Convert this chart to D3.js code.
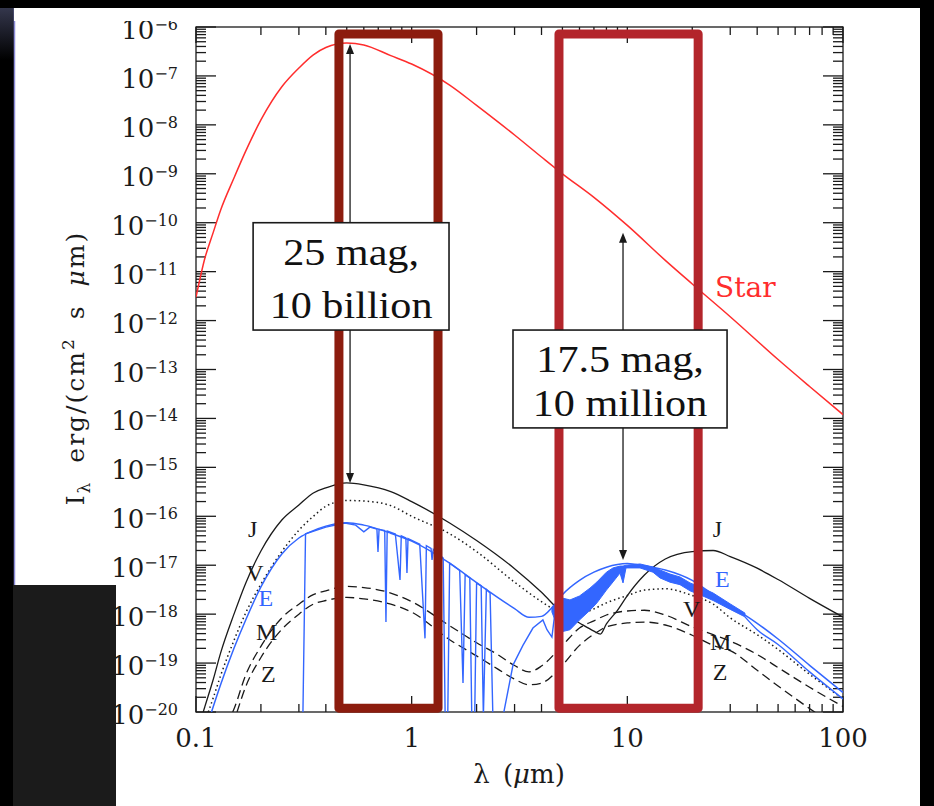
<!DOCTYPE html>
<html>
<head>
<meta charset="utf-8">
<script src="https://cdn.jsdelivr.net/npm/d3@7"></script>
<style>
html, body { margin: 0; padding: 0; background: #000; }
svg { display: block; }
</style>
</head>
<body>
<svg width="934" height="806"></svg>
<script>
// wavelength in micron, intensity in erg/(cm2 s um)
var starLam = [0.1,0.11,0.12,0.13,0.15,0.17,0.2,0.25,0.3,0.35,0.4,0.5,0.6,0.8,1,1.5,2,3,4,5,7,10,15,20,30,50,70,100];
var starI = [3.0e-12,1.9e-11,6.2e-11,1.8e-10,8.2e-10,2.9e-9,1.26e-8,6.0e-8,1.45e-7,2.7e-7,3.8e-7,4.7e-7,4.3e-7,2.6e-7,1.75e-7,6.5e-8,2.5e-8,6.2e-9,2.2e-9,1.0e-9,3.3e-10,8.8e-11,1.7e-11,5.6e-12,1.2e-12,1.6e-13,4.5e-14,1.2e-14];

var jupLam = [0.108,0.11,0.12,0.13,0.15,0.17,0.2,0.25,0.3,0.35,0.4,0.5,0.6,0.8,1,1.5,2,3,4,5,6,7,7.5,8,9,10,12,15,20,25,30,40,50,70,100];
var jupI = [1e-20,1.3e-20,4.5e-20,1.6e-19,1.0e-18,4.3e-18,1.95e-17,8.4e-17,1.7e-16,3.0e-16,3.8e-16,4.8e-16,4.4e-16,3.2e-16,2.0e-16,7.3e-17,3.2e-17,8.5e-18,2.8e-18,1.06e-18,6.6e-19,4.5e-19,3.9e-19,6.3e-19,1.2e-18,2.4e-18,6.3e-18,1.34e-17,1.9e-17,2.0e-17,1.5e-17,8.7e-18,5.1e-18,2.1e-18,8.7e-19];

var venLam = [0.114,0.12,0.13,0.15,0.17,0.2,0.25,0.3,0.35,0.4,0.5,0.6,0.8,1,1.5,2,3,4,5,5.5,6,7,8,10,12,15,20,25,30,40,50,70,100];
var venI = [1e-20,1.9e-20,5.5e-20,2.9e-19,1.06e-18,4.1e-18,1.9e-17,5.2e-17,1.0e-16,1.6e-16,2.1e-16,2.05e-16,1.65e-16,1.0e-16,4.4e-17,1.9e-17,4.5e-18,1.8e-18,1.0e-18,8.4e-19,9.6e-19,1.28e-18,1.7e-18,2.4e-18,3.1e-18,3.3e-18,2.4e-18,1.6e-18,8.4e-19,3.8e-19,1.9e-19,5.9e-20,1.85e-20];

var earthLam = [0.118,0.13,0.15,0.17,0.2,0.25,0.3,0.35,0.4,0.5,0.6,0.8,1,1.5,2,3,3.5,4,4.5,5,6,7,8,10,12,15,20,25,30,40,50,70,100];
var earthI = [1e-20,3.6e-20,2.0e-19,7.6e-19,3.6e-18,1.7e-17,3.6e-17,5.1e-17,6.3e-17,7.4e-17,6.6e-17,4.5e-17,3.1e-17,1.1e-17,4.4e-18,1.3e-18,8.6e-19,9.0e-19,1.4e-18,2.5e-18,4.9e-18,7.2e-18,9.1e-18,1.08e-17,9.7e-18,8.0e-18,4.9e-18,2.5e-18,1.5e-18,6.5e-19,3.1e-19,9.0e-20,2.5e-20];

// earth spectrum with absorption bands
var earthSpecLam = [0.313,0.322,0.40,0.49,0.55,0.60,0.64,0.69,0.698,0.706,0.75,0.76,0.77,0.84,0.883,0.895,0.94,0.951,0.962,1.09,1.153,1.17,1.23,1.243,1.26,1.40,1.43,1.47,1.50,1.67,1.73,1.77,1.86,1.90,1.96,2.0,2.10,2.15,2.22,2.31,2.38,2.65,2.95,3.28,3.65,4.06,4.24,4.47,4.62];
var earthSpecI = [8e-21,4.4e-17,6.0e-17,7.3e-17,6.6e-17,4.8e-17,6.0e-17,5.5e-17,1.86e-17,5.4e-17,5.1e-17,6.9e-19,5.0e-17,4.35e-17,5.0e-18,4.0e-17,3.6e-17,6.9e-18,3.5e-17,2.7e-17,3.2e-19,2.5e-17,2.2e-17,1.28e-17,2.1e-17,1.4e-17,8e-21,8e-21,1.1e-17,7.8e-18,3.9e-20,6.4e-18,5.5e-18,8e-21,8e-21,4.3e-18,3.8e-18,8e-21,3.2e-18,2.7e-18,8e-21,8e-21,9.1e-20,2.3e-19,5.2e-19,7.6e-19,4.8e-19,3.4e-19,1.1e-18];

var bandLam = [4.47,4.72,5.0,5.42,6.0,6.71,7.23,8.0,8.58,9.25,9.55,9.86,11.45,13.15,14.17,15.77,17.55,19.52,21.7,25.0,30.0,35.1];
var bandTop = [1.4e-18,1.77e-18,2.13e-18,1.95e-18,2.35e-18,3.4e-18,4.55e-18,7.2e-18,8.8e-18,9.6e-18,9.6e-18,1.0e-17,1.06e-17,9.2e-18,8.0e-18,6.6e-18,5.75e-18,4.35e-18,3.6e-18,2.7e-18,1.62e-18,1.05e-18];
var bandBottom = [1.1e-18,6.0e-19,4.4e-19,4.8e-19,7.6e-19,1.2e-18,1.7e-18,3.1e-18,4.55e-18,6.9e-18,4.35e-18,8.8e-18,8.8e-18,7.2e-18,5.5e-18,4.5e-18,4.0e-18,3.0e-18,2.5e-18,1.9e-18,1.25e-18,8.8e-19];

var earthTailLam = [35.1,40,50,70,100];
var earthTailI = [8.8e-19,4.8e-19,2.4e-19,6.6e-20,1.85e-20];

var marsLam = [0.148,0.15,0.17,0.2,0.25,0.3,0.35,0.4,0.5,0.6,0.8,1,1.5,2,2.5,3,3.5,4,5,6,7,8,10,12,15,20,25,30,40,50,70,100];
var marsI = [1e-20,1.15e-20,5.7e-20,2.2e-19,8.4e-19,1.6e-18,2.5e-18,3.0e-18,3.7e-18,3.5e-18,2.7e-18,1.8e-18,5.8e-19,2.6e-19,1.5e-19,8.9e-20,6.6e-20,8.7e-20,2.3e-19,5.2e-19,7.3e-19,9.6e-19,1.16e-18,1.2e-18,9.6e-19,5.5e-19,3.8e-19,2.8e-19,1.5e-19,8.1e-20,3.2e-20,1.3e-20];

var zodiLam = [0.155,0.17,0.2,0.25,0.3,0.35,0.4,0.5,0.6,0.8,1,1.5,2,2.5,3,3.5,4,5,6,7,8,10,12,15,20,25,30,40,50,60,75];
var zodiI = [1e-20,3.3e-20,1.3e-19,4.9e-19,1.0e-18,1.6e-18,1.9e-18,2.2e-18,2.05e-18,1.6e-18,1.1e-18,3.0e-19,1.4e-19,7.6e-20,4.7e-20,3.6e-20,3.9e-20,9.1e-20,2.3e-19,3.9e-19,5.5e-19,6.6e-19,6.9e-19,6.0e-19,3.7e-19,2.3e-19,1.8e-19,7.1e-20,3.4e-20,1.9e-20,9.5e-21];

var arrowLam = [0.518, 9.55];
var arrowTop = [4.5e-7, 6.2e-11];
var arrowBottom = [4.8e-16, 1.28e-17];

var boxLam0 = [0.46, 4.82];
var boxLam1 = [1.325, 21.3];
var boxTop = 7.2e-7, boxBottom = 1.2e-20;
var boxColors = ["#8c1c0e", "#b3252b"];

var noteLam0 = [0.184, 2.95];
var noteLam1 = [1.49, 29.0];
var noteTop = [1.0e-10, 6.4e-13];
var noteBottom = [6.4e-13, 6.4e-15];
var noteLines = [["25 mag,", "10 billion"], ["17.5 mag,", "10 million"]];

var planetNames = ["J","V","E","M","Z","J","E","V","M","Z"];
var planetLam = [0.174,0.171,0.195,0.190,0.200,24.9,25.5,18.1,24.2,24.9];
var planetI = [3.8e-17,4.7e-18,1.5e-18,2.96e-19,4.1e-20,3.8e-17,3.6e-18,8.75e-19,1.85e-19,4.5e-20];

var svg = d3.select("svg"),
    width = +svg.attr("width"),
    height = +svg.attr("height");

var x = d3.scaleLog().domain([0.1, 100]).range([196, 843]);
var y = d3.scaleLog().domain([1e-20, 1e-6]).range([712, 27]);

var blue = "#3366ff", red = "#ff2d2d", ink = "#1a1a1a";
var times = "'Liberation Serif', 'Times New Roman', serif";

function isMajor(v) {
    var l = Math.log10(v);
    return Math.abs(l - Math.round(l)) < 1e-6;
}

// slide background
var defs = svg.append("defs");
var grad = defs.append("linearGradient").attr("id", "corner")
    .attr("x1", 0).attr("y1", 0).attr("x2", 0).attr("y2", 1);
grad.append("stop").attr("offset", "0%").attr("stop-color", "#3c3f58");
grad.append("stop").attr("offset", "100%").attr("stop-color", "#000");
defs.append("clipPath").attr("id", "plot").append("rect")
    .attr("x", x(0.1)).attr("y", y(1e-6))
    .attr("width", x(100) - x(0.1)).attr("height", y(1e-20) - y(1e-6));

svg.append("rect").attr("width", width).attr("height", height).attr("fill", "#000");
svg.append("rect").attr("x", 0).attr("y", 0).attr("width", 14).attr("height", 60).attr("fill", "url(#corner)");
svg.append("rect").attr("x", 14).attr("y", 8).attr("width", 906).attr("height", height - 8).attr("fill", "#fff");
svg.append("line").attr("x1", 14.5).attr("x2", 14.5).attr("y1", 8).attr("y2", height)
    .attr("stroke", "#8c8cd8").attr("stroke-width", 1.5);

// frame and ticks
var frame = svg.append("g").attr("stroke", ink).attr("stroke-width", 1.3).attr("fill", "none");
frame.append("rect").attr("x", x(0.1)).attr("y", y(1e-6))
    .attr("width", x(100) - x(0.1)).attr("height", y(1e-20) - y(1e-6));

x.ticks(40).forEach(function(v) {
    var len = isMajor(v) ? 16 : 8;
    frame.append("line").attr("x1", x(v)).attr("x2", x(v)).attr("y1", y(1e-20)).attr("y2", y(1e-20) - len);
    frame.append("line").attr("x1", x(v)).attr("x2", x(v)).attr("y1", y(1e-6)).attr("y2", y(1e-6) + len);
});
y.ticks(200).forEach(function(v) {
    var len = isMajor(v) ? 20 : 10;
    frame.append("line").attr("y1", y(v)).attr("y2", y(v)).attr("x1", x(0.1)).attr("x2", x(0.1) + len);
    frame.append("line").attr("y1", y(v)).attr("y2", y(v)).attr("x1", x(100)).attr("x2", x(100) - len);
});

// tick labels
var tl = svg.append("g").attr("font-family", "DejaVu Serif").attr("fill", ink);
x.ticks(40).filter(isMajor).forEach(function(v) {
    tl.append("text").attr("x", x(v)).attr("y", 747).attr("text-anchor", "middle")
        .attr("font-size", 26).text(d3.format("~g")(v));
});
y.ticks(200).filter(isMajor).forEach(function(v) {
    var e = Math.round(Math.log10(v));
    var t = tl.append("text").attr("x", 178).attr("y", y(v) + 12)
        .attr("text-anchor", "end").attr("font-size", 26);
    t.append("tspan").text("10");
    t.append("tspan").attr("font-size", 16).attr("dy", -9).text("\u2212" + (-e));
});

// curves
var plot = svg.append("g").attr("clip-path", "url(#plot)").attr("fill", "none");
var smooth = d3.line().x(function(d) { return x(d[0]); }).y(function(d) { return y(d[1]); })
    .curve(d3.curveMonotoneX);
var straight = d3.line().x(function(d) { return x(d[0]); }).y(function(d) { return y(d[1]); });
var band = d3.area().x(function(d) { return x(d[0]); })
    .y0(function(d) { return y(d[2]); }).y1(function(d) { return y(d[1]); });

plot.append("path").attr("d", smooth(d3.zip(starLam, starI)))
    .attr("stroke", red).attr("stroke-width", 1.5);
plot.append("path").attr("d", smooth(d3.zip(zodiLam, zodiI)))
    .attr("stroke", ink).attr("stroke-width", 1.3).attr("stroke-dasharray", "9,5");
plot.append("path").attr("d", smooth(d3.zip(marsLam, marsI)))
    .attr("stroke", ink).attr("stroke-width", 1.3).attr("stroke-dasharray", "9,5");
plot.append("path").attr("d", smooth(d3.zip(venLam, venI)))
    .attr("stroke", ink).attr("stroke-width", 1.5).attr("stroke-dasharray", "1.5,3");
plot.append("path").attr("d", smooth(d3.zip(jupLam, jupI)))
    .attr("stroke", ink).attr("stroke-width", 1.3);
plot.append("path").attr("d", smooth(d3.zip(earthLam, earthI)))
    .attr("stroke", blue).attr("stroke-width", 1.5);
plot.append("path").attr("d", straight(d3.zip(earthSpecLam, earthSpecI)))
    .attr("stroke", blue).attr("stroke-width", 1.4);
plot.append("path").attr("d", band(d3.zip(bandLam, bandTop, bandBottom)))
    .attr("fill", blue).attr("stroke", blue).attr("stroke-width", 1);
plot.append("path").attr("d", smooth(d3.zip(earthTailLam, earthTailI)))
    .attr("stroke", blue).attr("stroke-width", 1.4);

// arrows between star and planet
arrowLam.forEach(function(l, i) {
    var ax = x(l), y0 = y(arrowTop[i]), y1 = y(arrowBottom[i]);
    svg.append("line").attr("x1", ax).attr("x2", ax).attr("y1", y0 + 6).attr("y2", y1 - 6)
        .attr("stroke", ink).attr("stroke-width", 1.3);
    svg.append("path").attr("fill", ink)
        .attr("d", "M" + ax + "," + y0 + "l-4,10h8z");
    svg.append("path").attr("fill", ink)
        .attr("d", "M" + ax + "," + y1 + "l-4,-10h8z");
});

// highlighted bands
boxLam0.forEach(function(l, i) {
    svg.append("rect").attr("x", x(l)).attr("y", y(boxTop))
        .attr("width", x(boxLam1[i]) - x(l)).attr("height", y(boxBottom) - y(boxTop))
        .attr("fill", "none").attr("stroke", boxColors[i]).attr("stroke-width", 9)
        .attr("stroke-linejoin", "round");
});

// annotation boxes
noteLam0.forEach(function(l, i) {
    var x0 = x(l), x1 = x(noteLam1[i]), top = y(noteTop[i]), bot = y(noteBottom[i]);
    svg.append("rect").attr("x", x0).attr("y", top).attr("width", x1 - x0).attr("height", bot - top)
        .attr("fill", "#fff").attr("stroke", ink).attr("stroke-width", 1.6);
    var cx = (x0 + x1) / 2;
    [top + 42, bot - 12].forEach(function(b, k) {
        svg.append("text").attr("transform", "translate(" + cx + "," + b + ") scale(1.14,1)")
            .attr("text-anchor", "middle").attr("font-family", times)
            .attr("font-size", 37).attr("fill", "#111").text(noteLines[i][k]);
    });
});

// curve labels
planetNames.forEach(function(n, i) {
    svg.append("text").attr("x", x(planetLam[i])).attr("y", y(planetI[i]))
        .attr("font-family", times).attr("font-size", 24)
        .attr("fill", n == "E" ? blue : ink).text(n);
});
svg.append("text").attr("x", x(25.5)).attr("y", y(3.0e-12))
    .attr("font-family", "DejaVu Serif").attr("font-size", 28).attr("fill", red).text("Star");

// axis titles
var xt = svg.append("text").attr("x", 519).attr("y", 783).attr("text-anchor", "middle")
    .attr("font-family", "DejaVu Serif").attr("font-size", 26).attr("fill", ink)
    .attr("word-spacing", 5);
xt.append("tspan").text("\u03bb (");
xt.append("tspan").attr("font-style", "italic").text("\u03bc");
xt.append("tspan").text("m)");

var yt = svg.append("text").attr("transform", "translate(84,368) rotate(-90)")
    .attr("text-anchor", "middle").attr("font-family", "DejaVu Serif").attr("font-size", 25)
    .attr("fill", ink).attr("letter-spacing", 2).attr("word-spacing", 8);
yt.append("tspan").text("I");
yt.append("tspan").attr("font-size", 17).attr("dy", 6).text("\u03bb");
yt.append("tspan").attr("dy", -6).text(" erg/(cm");
yt.append("tspan").attr("font-size", 17).attr("dy", -10).text("2");
yt.append("tspan").attr("dy", 10).text(" s ");
yt.append("tspan").attr("font-style", "italic").text("\u03bc");
yt.append("tspan").text("m)");

// slide edges drawn over the figure
svg.append("rect").attr("x", 14).attr("y", 8).attr("width", 906).attr("height", 13).attr("fill", "#fff");
svg.append("rect").attr("x", 0).attr("y", 0).attr("width", width).attr("height", 8).attr("fill", "#000");
svg.append("rect").attr("x", 13).attr("y", 585).attr("width", 103).attr("height", height - 585).attr("fill", "#1b1b1b");
svg.append("rect").attr("x", 0).attr("y", 585).attr("width", 13).attr("height", height - 585).attr("fill", "#000");
</script>
</body>
</html>
